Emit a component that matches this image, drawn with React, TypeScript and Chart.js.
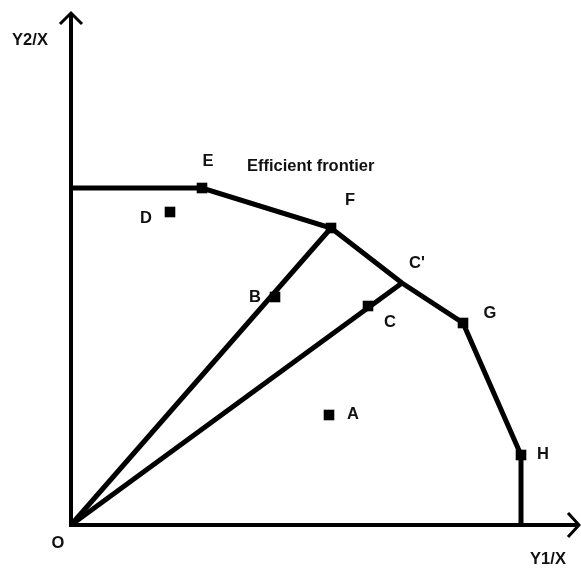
import React, { useEffect, useRef } from "react";
import { Chart, registerables } from "chart.js";

Chart.register(...registerables);

// Efficiency ratios (Y1/X, Y2/X)
const frontierNames = ["", "E", "F", "C'", "G", "H", ""];
const frontierX = [0, 2.62, 5.2, 6.62, 7.84, 9.0, 9.0];
const frontierY = [6.74, 6.74, 5.94, 4.84, 4.04, 1.4, 0];
const frontierMarked = [false, true, true, false, true, true, false];

const unitNames = ["A", "B", "C", "D"];
const unitX = [5.16, 4.08, 5.94, 1.98];
const unitY = [2.2, 4.56, 4.38, 6.26];

const xAxisTitle = "Y1/X";
const yAxisTitle = "Y2/X";
const originLabel = "O";
const frontierLabel = "Efficient frontier";

// label offsets in pixels (style only)
const labelOffsets: Record<string, [number, number]> = {
  E: [6, -27],
  F: [19, -28],
  "C'": [15, -20],
  G: [27, -10],
  H: [22, -1],
  A: [24, -1],
  B: [-20, 0],
  C: [22, 16],
  D: [-24, 6],
};

const FONT = "bold 16.5px 'Liberation Sans', Arial, sans-serif";

const decorPlugin = {
  id: "decor",
  beforeDatasetsDraw(chart: any) {
    const { ctx, scales } = chart;
    const x0 = scales.x.getPixelForValue(0);
    const y0 = scales.y.getPixelForValue(0);
    ctx.save();
    ctx.strokeStyle = "#000";
    ctx.lineCap = "butt";
    ctx.lineWidth = 4;
    ctx.beginPath();
    ctx.moveTo(x0, y0 + 2);
    ctx.lineTo(x0, 14);
    ctx.stroke();
    ctx.beginPath();
    ctx.moveTo(x0 - 2, y0);
    ctx.lineTo(578, y0);
    ctx.stroke();
    ctx.lineWidth = 3;
    ctx.lineJoin = "miter";
    ctx.beginPath();
    ctx.moveTo(x0 - 11, 24);
    ctx.lineTo(x0, 13);
    ctx.lineTo(x0 + 11, 24);
    ctx.stroke();
    ctx.beginPath();
    ctx.moveTo(568, y0 - 12);
    ctx.lineTo(579, y0);
    ctx.lineTo(568, y0 + 12);
    ctx.stroke();
    ctx.restore();
  },
  afterDatasetsDraw(chart: any) {
    const { ctx, scales } = chart;
    ctx.save();
    ctx.fillStyle = "#111";
    ctx.font = FONT;
    ctx.textAlign = "center";
    ctx.textBaseline = "middle";
    const put = (name: string, x: number, y: number) => {
      const off = labelOffsets[name];
      if (!off) return;
      ctx.fillText(name, scales.x.getPixelForValue(x) + off[0], scales.y.getPixelForValue(y) + off[1]);
    };
    frontierNames.forEach((n, i) => n && put(n, frontierX[i], frontierY[i]));
    unitNames.forEach((n, i) => put(n, unitX[i], unitY[i]));
    const x0 = scales.x.getPixelForValue(0);
    const y0 = scales.y.getPixelForValue(0);
    ctx.fillText(originLabel, x0 - 13, y0 + 18);
    ctx.fillText(yAxisTitle, 30, 40);
    ctx.fillText(xAxisTitle, 548, 559);
    ctx.textAlign = "left";
    ctx.fillText(frontierLabel, 247, 166);
    ctx.restore();
  },
};

export default function App() {
  const ref = useRef<HTMLCanvasElement>(null);
  useEffect(() => {
    if (!ref.current) return;
    const frontier = frontierX.map((x, i) => ({ x, y: frontierY[i] }));
    const fIdx = frontierNames.indexOf("F");
    const cIdx = frontierNames.indexOf("C'");
    const chart = new Chart(ref.current, {
      type: "scatter",
      data: {
        datasets: [
          {
            data: frontier,
            showLine: true,
            borderColor: "#000",
            backgroundColor: "#000",
            borderWidth: 5,
            pointStyle: "rect",
            pointRadius: frontierMarked.map((m) => (m ? 7.5 : 0)),
            pointBorderWidth: 0,
            clip: false,
          } as any,
          {
            data: [{ x: 0, y: 0 }, frontier[fIdx]],
            showLine: true,
            borderColor: "#000",
            borderWidth: 5,
            pointRadius: 0,
            clip: false,
          } as any,
          {
            data: [{ x: 0, y: 0 }, frontier[cIdx]],
            showLine: true,
            borderColor: "#000",
            borderWidth: 5,
            pointRadius: 0,
            clip: false,
          } as any,
          {
            data: unitX.map((x, i) => ({ x, y: unitY[i] })),
            showLine: false,
            backgroundColor: "#000",
            borderColor: "#000",
            pointStyle: "rect",
            pointRadius: 7.5,
            pointBorderWidth: 0,
            clip: false,
          } as any,
        ],
      },
      options: {
        animation: false,
        responsive: false,
        layout: { padding: { left: 71, right: 10, top: 25, bottom: 43 } },
        scales: {
          x: { type: "linear", min: 0, max: 10, display: false },
          y: { type: "linear", min: 0, max: 10, display: false },
        },
        plugins: { legend: { display: false }, tooltip: { enabled: false } },
      },
      plugins: [decorPlugin],
    });
    return () => chart.destroy();
  }, []);
  return (
    <div style={{ position: "absolute", left: 0, top: 0, width: 581, height: 568, background: "#fff" }}>
      <canvas ref={ref} width={581} height={568} />
    </div>
  );
}
